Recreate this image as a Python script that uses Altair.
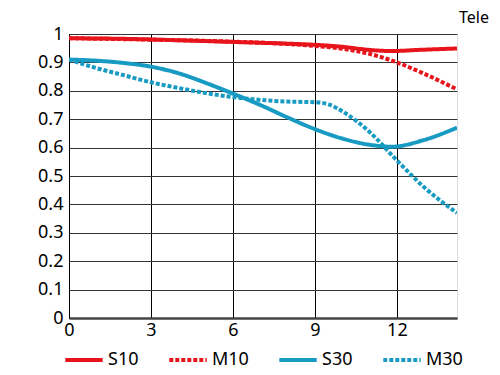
import altair as alt
import pandas as pd

# Data
s10_x = [0, 2, 4, 6, 8, 9, 10, 11, 11.8, 12.8, 14.2]
s10_y = [0.985, 0.983, 0.978, 0.972, 0.966, 0.962, 0.955, 0.944, 0.94, 0.944, 0.949]

m10_x = [0, 3, 6, 8, 9, 10, 11, 12, 13, 14.2]
m10_y = [0.985, 0.98, 0.973, 0.965, 0.958, 0.948, 0.93, 0.9, 0.86, 0.805]

s30_x = [0, 1, 2, 3, 4, 5, 6, 7, 8, 9, 10, 11, 11.8, 13, 14.2]
s30_y = [0.91, 0.906, 0.898, 0.885, 0.862, 0.828, 0.79, 0.75, 0.706, 0.665, 0.632, 0.61, 0.603, 0.627, 0.67]

m30_x = [0, 1, 2, 3, 4, 5, 6, 7, 8, 9, 9.5, 10, 11, 12, 13, 14.2]
m30_y = [0.91, 0.88, 0.855, 0.83, 0.81, 0.792, 0.778, 0.768, 0.762, 0.76, 0.752, 0.728, 0.655, 0.555, 0.46, 0.37]

series = ["S10", "M10", "S30", "M30"]
colors = ["#e8141c", "#e8141c", "#179bc3", "#179bc3"]
dashes = [[1, 0], [4, 2], [1, 0], [4, 2]]

rows = []
for name, xs, ys in [("S10", s10_x, s10_y), ("M10", m10_x, m10_y),
                     ("S30", s30_x, s30_y), ("M30", m30_x, m30_y)]:
    for i, (x, y) in enumerate(zip(xs, ys)):
        rows.append({"series": name, "x": x, "y": y, "order": i})
df = pd.DataFrame(rows)

font = "Noto Sans"

legend_kw = dict(title=None, orient="none", direction="horizontal",
                 legendX=-6, legendY=305, symbolType="stroke",
                 symbolStrokeWidth=4, symbolSize=1400,
                 labelFontSize=18, labelFont=font, labelColor="#000",
                 labelOffset=3, columnPadding=22)

chart = alt.Chart(df).mark_line(strokeWidth=4, interpolate="monotone", clip=True).encode(
    x=alt.X("x:Q", scale=alt.Scale(domain=[0, 14.2], nice=False, zero=False),
            axis=alt.Axis(values=[0, 3, 6, 9, 12], title=None, labelFontSize=18,
                          labelFont=font, labelColor="#000", ticks=False, labelPadding=3,
                          domain=True, domainColor="#444", domainWidth=2.5,
                          gridColor="#000", gridWidth=1, labelFlush=False)),
    y=alt.Y("y:Q", scale=alt.Scale(domain=[0, 1], nice=False),
            axis=alt.Axis(values=[0, 0.1, 0.2, 0.3, 0.4, 0.5, 0.6, 0.7, 0.8, 0.9, 1],
                          labelExpr="datum.value == 0 ? '0' : datum.value == 1 ? '1' : format(datum.value, '.1f')",
                          title=None, labelFontSize=18, labelFont=font, labelColor="#000",
                          ticks=False, labelPadding=6, domain=True, domainColor="#000",
                          gridColor="#333", gridWidth=1, labelFlush=False)),
    color=alt.Color("series:N", scale=alt.Scale(domain=series, range=colors),
                    legend=alt.Legend(**legend_kw)),
    strokeDash=alt.StrokeDash("series:N", scale=alt.Scale(domain=series, range=dashes),
                              legend=alt.Legend(**legend_kw)),
    order="order:Q",
).properties(
    width=388, height=284,
    padding={"left": 69, "top": 34, "right": 43, "bottom": 57},
    autosize=alt.AutoSizeParams(type="none"),
    title=alt.TitleParams("Tele", anchor="end", fontSize=16, font=font, fontWeight="normal",
                          color="#000", offset=3, dx=26, dy=4),
).configure_view(stroke="#000", strokeWidth=1).configure(background="white")

chart.save("out.html", embed_options={"renderer": "svg", "actions": False})
